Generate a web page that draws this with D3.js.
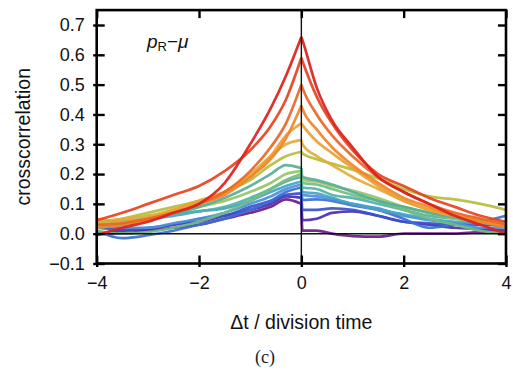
<!DOCTYPE html>
<html>
<head>
<meta charset="utf-8">
<script src="https://cdn.jsdelivr.net/npm/d3@7"></script>
<style>
  body { margin: 0; background: #fff; }
  svg { display: block; font-family: "Liberation Sans", Arial, Helvetica, sans-serif; }
</style>
</head>
<body>
<div id="chart"></div>
<script>
// lag grid (division times); the pair 0 / 0.02 carries the jump at zero lag
const lags = [-4, -3.5, -3, -2.5, -2, -1.5, -1, -0.6, -0.3, 0, 0.02, 0.3, 0.6, 1, 1.5, 2, 2.5, 3, 3.5, 4];

const xTicks = [-4, -2, 0, 2, 4];
const yTicks = [-0.1, 0, 0.1, 0.2, 0.3, 0.4, 0.5, 0.6, 0.7];

// one array per curve, lowest peak first
const sPurple  = [0.00, 0.00, 0.01, 0.02, 0.03, 0.05, 0.07, 0.09, 0.115, 0.10, 0.01, 0.01, 0.00, -0.008, -0.01, 0.00, 0.00, 0.00, 0.005, 0.00];
const sIndigo  = [0.00, 0.01, 0.015, 0.03, 0.04, 0.06, 0.08, 0.10, 0.125, 0.12, 0.045, 0.05, 0.07, 0.075, 0.06, 0.04, 0.03, 0.02, 0.015, 0.01];
const sBlue1   = [0.02, 0.015, 0.02, 0.03, 0.05, 0.06, 0.09, 0.11, 0.13, 0.135, 0.08, 0.08, 0.085, 0.08, 0.06, 0.04, 0.035, 0.03, 0.03, 0.025];
const sBlue2   = [0.01, -0.015, -0.005, 0.01, 0.03, 0.05, 0.08, 0.11, 0.14, 0.155, 0.113, 0.115, 0.11, 0.095, 0.08, 0.05, 0.02, 0.03, 0.04, 0.06];
const sBlue3   = [0.03, 0.02, 0.02, 0.035, 0.05, 0.07, 0.10, 0.125, 0.15, 0.165, 0.13, 0.125, 0.115, 0.10, 0.085, 0.06, 0.045, 0.035, 0.02, 0.02];
const sCyan    = [0.04, 0.045, 0.05, 0.06, 0.075, 0.085, 0.11, 0.14, 0.16, 0.175, 0.14, 0.135, 0.12, 0.10, 0.08, 0.065, 0.05, 0.04, 0.035, 0.03];
const sTeal    = [0.02, 0.03, 0.05, 0.07, 0.075, 0.09, 0.12, 0.15, 0.175, 0.19, 0.155, 0.15, 0.13, 0.12, 0.10, 0.08, 0.06, 0.05, 0.04, 0.04];
const sGreen   = [0.01, 0.00, 0.005, 0.02, 0.04, 0.07, 0.11, 0.15, 0.18, 0.20, 0.17, 0.165, 0.15, 0.13, 0.11, 0.08, 0.05, 0.03, 0.01, 0.00];
const sLime    = [0.03, 0.04, 0.06, 0.07, 0.09, 0.11, 0.14, 0.17, 0.20, 0.21, 0.18, 0.175, 0.16, 0.145, 0.12, 0.09, 0.07, 0.05, 0.04, 0.03];
const sSea     = [0.02, 0.03, 0.045, 0.065, 0.09, 0.12, 0.16, 0.20, 0.23, 0.22, 0.19, 0.18, 0.165, 0.14, 0.11, 0.09, 0.07, 0.055, 0.045, 0.035];
const sOlive   = [0.03, 0.05, 0.07, 0.09, 0.11, 0.14, 0.18, 0.23, 0.26, 0.275, 0.27, 0.25, 0.235, 0.215, 0.185, 0.15, 0.125, 0.115, 0.10, 0.08];
const sAmber   = [0.04, 0.05, 0.06, 0.08, 0.10, 0.14, 0.20, 0.26, 0.30, 0.314, 0.30, 0.26, 0.23, 0.19, 0.15, 0.11, 0.08, 0.06, 0.04, 0.03];
const sGold    = [0.05, 0.04, 0.05, 0.08, 0.11, 0.14, 0.19, 0.26, 0.33, 0.37, 0.365, 0.31, 0.27, 0.22, 0.16, 0.11, 0.08, 0.06, 0.05, 0.03];
const sOrange  = [0.02, 0.03, 0.045, 0.07, 0.10, 0.13, 0.19, 0.25, 0.32, 0.43, 0.42, 0.35, 0.29, 0.23, 0.17, 0.12, 0.09, 0.06, 0.04, 0.02];
const sTangelo = [0.03, 0.035, 0.05, 0.07, 0.10, 0.14, 0.21, 0.29, 0.37, 0.50, 0.49, 0.40, 0.33, 0.26, 0.19, 0.14, 0.10, 0.07, 0.05, 0.03];
const sVermil  = [0.045, 0.07, 0.10, 0.13, 0.16, 0.21, 0.28, 0.36, 0.45, 0.59, 0.58, 0.46, 0.37, 0.28, 0.20, 0.16, 0.12, 0.09, 0.06, 0.04];
const sRed     = [-0.005, 0.02, 0.04, 0.07, 0.10, 0.17, 0.30, 0.42, 0.53, 0.66, 0.65, 0.49, 0.38, 0.29, 0.19, 0.14, 0.10, 0.06, 0.03, 0.00];

const seriesList = [sPurple, sIndigo, sBlue1, sBlue2, sBlue3, sCyan, sTeal, sGreen, sLime, sSea,
                    sOlive, sAmber, sGold, sOrange, sTangelo, sVermil, sRed];
const seriesColors = ['#6a1a8c', '#4a2db2', '#3c50cb', '#3b6fd6', '#4a8fdb', '#45a3c4', '#4fb3a3', '#72bd7e',
                      '#95c565', '#58ae97', '#b6be3e', '#e3ad38', '#eda033', '#f08429', '#ec6424', '#e6431f', '#dd1f1b'];

const width = 513, height = 374;
const x = d3.scaleLinear().domain([-4, 4]).range([96.7, 506]);
const y = d3.scaleLinear().domain([-0.1, 0.75]).range([263.5, 10.1]);

const svg = d3.select('#chart').append('svg')
  .attr('width', width)
  .attr('height', height);

// Curves: smooth on each side of zero lag, sharp cusp at zero
const zeroIdx = lags.indexOf(0);
const line = d3.line()
  .x(d => x(d[0]))
  .y(d => y(d[1]))
  .curve(d3.curveMonotoneX);

function curvePath(vals) {
  const pts = vals.map((v, i) => [lags[i], v]);
  return line(pts.slice(0, zeroIdx + 1)) + line(pts.slice(zeroIdx));
}

svg.append('g')
  .selectAll('path')
  .data(seriesList)
  .join('path')
  .attr('d', curvePath)
  .attr('fill', 'none')
  .attr('stroke', (d, i) => seriesColors[i])
  .attr('stroke-width', 2.7)
  .attr('stroke-linejoin', 'round')
  .attr('stroke-opacity', 0.92);

// Zero lines
svg.append('line')
  .attr('x1', x(-4)).attr('x2', x(4))
  .attr('y1', y(0)).attr('y2', y(0))
  .attr('stroke', '#111').attr('stroke-width', 1.4);
svg.append('line')
  .attr('x1', x(0)).attr('x2', x(0))
  .attr('y1', y(0.75)).attr('y2', y(-0.1))
  .attr('stroke', '#111').attr('stroke-width', 1.4);

// Axes (ticks point inward, left and bottom ones poke out a little)
const fmtY = d3.format('.1f');
const axLeft = svg.append('g')
  .attr('transform', `translate(${x(-4)},0)`)
  .call(d3.axisLeft(y).tickValues(yTicks).tickSize(-8).tickPadding(12).tickFormat(fmtY));
axLeft.selectAll('.tick line').attr('x1', -3.5);

const axRight = svg.append('g')
  .attr('transform', `translate(${x(4)},0)`)
  .call(d3.axisRight(y).tickValues(yTicks).tickSize(-8).tickFormat(''));

const axBottom = svg.append('g')
  .attr('transform', `translate(0,${y(-0.1)})`)
  .call(d3.axisBottom(x).tickValues(xTicks).tickSize(-8).tickPadding(13).tickFormat(d3.format('d')));
axBottom.selectAll('.tick line').attr('y1', 3.5);

const axTop = svg.append('g')
  .attr('transform', `translate(0,${y(0.75)})`)
  .call(d3.axisTop(x).tickValues(xTicks).tickSize(-8).tickFormat(''));

[axLeft, axRight, axBottom, axTop].forEach(g => {
  g.select('.domain').remove();
  g.selectAll('.tick line').attr('stroke', '#000').attr('stroke-width', 2.4);
  g.selectAll('.tick text').attr('fill', '#111').attr('font-size', 18)
    .attr('font-family', '"Liberation Sans", Arial, sans-serif');
});

// Frame
svg.append('rect')
  .attr('x', x(-4)).attr('y', y(0.75))
  .attr('width', x(4) - x(-4)).attr('height', y(-0.1) - y(0.75))
  .attr('fill', 'none').attr('stroke', '#000').attr('stroke-width', 2.6);

// Panel label p_R − mu
const lab = svg.append('text')
  .attr('x', 147).attr('y', 48)
  .attr('font-size', 19).attr('fill', '#111');
lab.append('tspan').attr('font-style', 'italic').text('p');
lab.append('tspan').attr('font-size', 13).attr('dy', 3).text('R');
lab.append('tspan').attr('dy', -3).text('\u2212');
lab.append('tspan').attr('font-style', 'italic').text('\u03bc');

// Axis titles
svg.append('text')
  .attr('transform', `translate(30,${(y(0.75) + y(-0.1)) / 2}) rotate(-90)`)
  .attr('text-anchor', 'middle')
  .attr('font-size', 19.5).attr('fill', '#111')
  .text('crosscorrelation');

svg.append('text')
  .attr('x', x(0)).attr('y', 329)
  .attr('text-anchor', 'middle')
  .attr('font-size', 19.5).attr('fill', '#111')
  .text('\u0394t / division time');

svg.append('text')
  .attr('x', 265).attr('y', 363)
  .attr('text-anchor', 'middle')
  .attr('font-family', '"Liberation Serif", "DejaVu Serif", serif')
  .attr('font-size', 18).attr('fill', '#222')
  .text('(c)');
</script>
</body>
</html>
